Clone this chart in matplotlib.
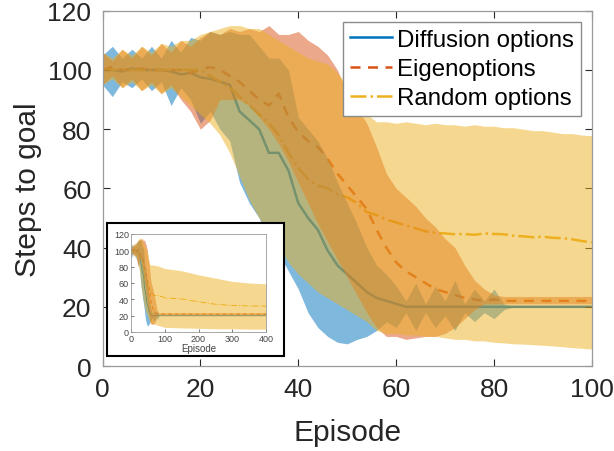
import matplotlib
matplotlib.use("Agg")
import matplotlib.pyplot as plt
import numpy as np

plt.rcParams['font.family'] = ['Liberation Sans', 'DejaVu Sans']

# episodes read every 2 steps in the main view, plus long-run points for the inset
ep_main = np.arange(0, 101, 2)
ep_long = [150, 200, 250, 300, 350, 400]

diff_mean = [100, 100, 99.5, 100.5, 100, 100, 100, 99.5, 98.5, 99, 97.5, 97, 96, 95, 86, 83, 80, 72, 72, 66,
             55, 50, 46, 39, 34, 31, 28, 25, 23, 22, 21, 20, 20, 20, 20, 20, 20, 20, 20, 20,
             20, 20, 20, 20, 20, 20, 20, 20, 20, 20, 20]
diff_lo = [95, 91, 96, 94, 97, 93, 96, 88, 94, 90, 82, 86, 80, 76, 62, 55, 50, 42, 38, 32,
           26, 18, 13, 10, 8, 7.5, 9, 10, 12, 15, 13, 18, 12, 18, 13, 17, 12, 18, 15, 18,
           16, 19, 20, 20, 20, 20, 20, 20, 20, 20, 20]
diff_hi = [105, 108, 104, 107, 104, 108, 104, 110, 106, 111, 110, 113, 112, 113, 112, 112, 108, 104, 104, 100,
           84, 80, 76, 70, 62, 55, 48, 40, 34, 31, 27, 22, 28, 21, 27, 22, 29, 21, 26, 22,
           26, 21, 20, 20, 20, 20, 20, 20, 20, 20, 20]

eig_mean = [100, 101, 100, 100, 100.5, 100, 100, 100, 100, 99, 100, 101, 100, 98, 96, 93, 90, 88, 92, 84,
            79, 76, 74, 70, 65, 61, 57, 53, 46, 40, 35, 32, 30, 28, 26, 25, 24, 23, 22.5, 22,
            22.5, 22, 22, 22, 22, 22, 22, 22, 22, 22, 22]
eig_lo = [95, 98, 94, 97, 93, 96, 92, 95, 90, 86, 80, 83, 90, 90, 90, 88, 84, 80, 75, 69,
          62, 55, 48, 42, 36, 30, 24, 18, 13, 10, 10, 9, 9.5, 10, 10, 11, 13, 16, 19, 21,
          21, 21, 21, 21, 21, 21, 21, 21, 21, 21, 21]
eig_hi = [106, 103, 107, 104, 108, 105, 109, 106, 110, 108, 111, 113, 112, 114, 113, 114, 113, 115, 112, 112,
          113, 110, 108, 105, 100, 92, 87, 82, 74, 65, 60, 57, 54, 50, 47, 43, 40, 34, 29, 26,
          24, 23.5, 23.5, 23.5, 23.5, 23.5, 23.5, 23.5, 23.5, 23.5, 23.5]

rnd_mean = [100, 100, 100, 100, 100, 100, 100, 100, 100, 100, 100, 98, 96, 94, 91, 88, 85, 82, 78, 72,
            67, 63, 61, 60, 58, 57, 55, 52, 51, 49.5, 48.5, 47.5, 46.5, 45.5, 45, 44.8, 44.5, 44.6, 44.3, 44.8,
            44.6, 44.5, 44, 43.8, 43.5, 43.7, 43.3, 43.2, 42.8, 42.2, 41.8]
rnd_lo = [95, 97, 94, 96, 93, 95, 92, 94, 91, 88, 85, 82, 78, 72, 64, 56, 50, 45, 40, 35,
          31, 28, 25, 23, 21, 19, 17, 15, 12, 11, 11, 10.5, 10.5, 10, 10, 9.5, 9, 9, 8.5, 8.5,
          8, 7.8, 7.5, 7.4, 7.2, 7, 6.8, 6.5, 6.2, 6, 5.7]
rnd_hi = [106, 104, 107, 105, 108, 106, 109, 108, 110, 110, 112, 113, 114, 115, 115, 114, 114, 112, 110, 108,
          106, 104, 103, 102, 99, 95, 90, 85, 82.5, 82.5, 82, 82.5, 82, 81.5, 82, 81.5, 81.5, 81, 81.5, 81,
          81, 80.5, 80.5, 80, 79.5, 79.5, 79, 78.5, 78.5, 78, 77.8]

# long-run values shown only in the inset
diff_mean_long = [20, 20, 20, 20, 20, 20]
eig_mean_long = [22, 22, 22, 22, 22, 22]
eig_lo_long = [21, 21, 21, 21, 21, 21]
eig_hi_long = [23.5, 23.5, 23.5, 23.5, 23.5, 23.5]
rnd_mean_long = [40.5, 37, 34, 32.5, 32, 31.5]
rnd_lo_long = [5, 4.5, 4, 4, 3.5, 3.5]
rnd_hi_long = [75, 70, 66, 62, 60, 59]

c_blue = '#0072BD'
c_orange = '#D95319'
c_yellow = '#EDB120'
grey = '#262626'


def draw(ax, ep, d, e, r, lw=1.5):
    # lines under the shaded bands, as in the original figure
    ax.plot(ep, d[0], color=c_blue, lw=lw, label='Diffusion options', zorder=1)
    ax.plot(ep, e[0], color=c_orange, lw=lw, ls=(0, (4, 3)), label='Eigenoptions', zorder=1)
    ax.plot(ep, r[0], color=c_yellow, lw=lw, ls='-.', label='Random options', zorder=1)
    ax.fill_between(ep, d[1], d[2], color=c_blue, alpha=0.5, lw=0, zorder=2)
    ax.fill_between(ep, e[1], e[2], color=c_orange, alpha=0.5, lw=0, zorder=2)
    ax.fill_between(ep, r[1], r[2], color=c_yellow, alpha=0.5, lw=0, zorder=2)


fig = plt.figure(figsize=(6.14, 4.52), dpi=100)
ax = fig.add_axes([0.167, 0.188, 0.797, 0.786])

draw(ax, ep_main, (diff_mean, diff_lo, diff_hi), (eig_mean, eig_lo, eig_hi), (rnd_mean, rnd_lo, rnd_hi), lw=1.8)

ax.set_xlim(0, 100)
ax.set_ylim(0, 120)
ax.set_xticks([0, 20, 40, 60, 80, 100])
ax.set_yticks([0, 20, 40, 60, 80, 100, 120])
ax.tick_params(direction='in', top=True, right=True, labelsize=19, colors=grey, length=5, width=0.8, pad=8)
for s in ax.spines.values():
    s.set_color('#9a9a9a')
    s.set_linewidth(0.9)
ax.set_xlabel('Episode', fontsize=21.5, color=grey, labelpad=12)
ax.set_ylabel('Steps to goal', fontsize=21.5, color=grey, labelpad=4)

leg = ax.legend(loc='upper right', fontsize=17.3, handlelength=1.75, handletextpad=0.2,
                borderaxespad=0.45, borderpad=0.3, labelspacing=0.3, fancybox=False,
                framealpha=1, edgecolor='#8a8a8a')
leg.set_zorder(4)
for t in leg.get_texts():
    t.set_color('black')

# inset: black box with small axes inside
box = plt.Rectangle((107 / 614, 1 - 357 / 452), 177 / 614, 133 / 452, transform=fig.transFigure,
                    facecolor='white', edgecolor='black', lw=1.5, zorder=5)
fig.patches.append(box)

ax_in = fig.add_axes([131 / 614, 1 - 333 / 452, 135 / 614, 98 / 452])
ax_in.set_zorder(6)
ep_all = list(ep_main) + ep_long
draw(ax_in, ep_all,
     (diff_mean + diff_mean_long, diff_lo + diff_mean_long, diff_hi + diff_mean_long),
     (eig_mean + eig_mean_long, eig_lo + eig_lo_long, eig_hi + eig_hi_long),
     (rnd_mean + rnd_mean_long, rnd_lo + rnd_lo_long, rnd_hi + rnd_hi_long), lw=0.7)
ax_in.set_xlim(0, 400)
ax_in.set_ylim(0, 120)
ax_in.set_xticks([0, 100, 200, 300, 400])
ax_in.set_yticks([0, 20, 40, 60, 80, 100, 120])
ax_in.tick_params(direction='in', labelsize=6.5, colors='#444444', length=2, width=0.5, pad=1.5)
for s in ax_in.spines.values():
    s.set_color('#9a9a9a')
    s.set_linewidth(0.6)
ax_in.set_xlabel('Episode', fontsize=7, color='#444444', labelpad=0)

fig.savefig('out.png', dpi=100)
